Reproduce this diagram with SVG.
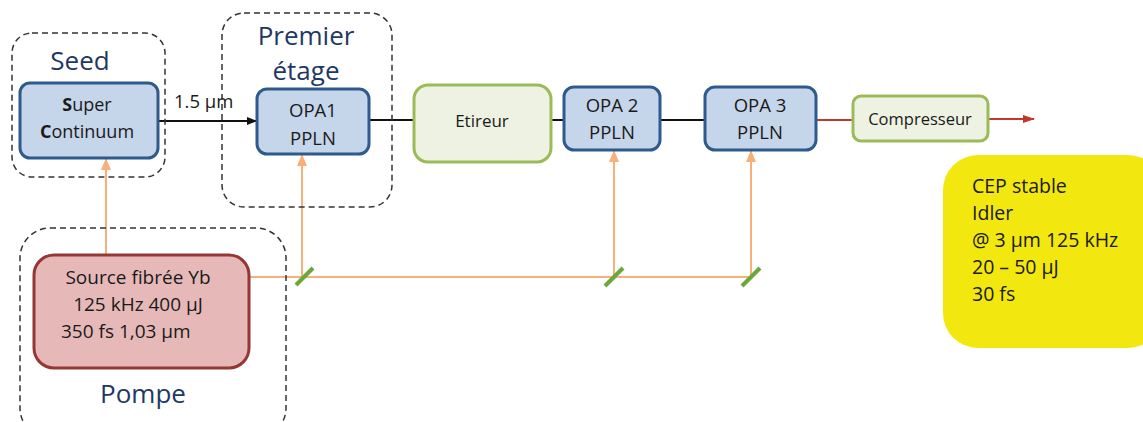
<svg xmlns="http://www.w3.org/2000/svg" width="1143" height="422" viewBox="0 0 1143 422">
<defs>
<style>
.dash{fill:none;stroke:#333;stroke-width:1.5;stroke-dasharray:6,4}
.blue{fill:#c5d5ea;stroke:#2e5a8e;stroke-width:3}
.green{fill:#eef2e2;stroke:#9bbb59;stroke-width:3}
.t{font-family:"Open Sans","Liberation Sans",sans-serif;fill:#1a1a1a}
.big{font-family:"Open Sans","Liberation Sans",sans-serif;fill:#1f3864;font-size:26px;text-anchor:middle}
.c{text-anchor:middle}
.blk{stroke:#111;stroke-width:2;fill:none}
.org{stroke:#f8b07a;stroke-width:2;fill:none}
.mir{stroke:#6aa83a;stroke-width:4;fill:none}
</style>
<marker id="ab" markerWidth="10" markerHeight="10" refX="9" refY="5" orient="auto" markerUnits="userSpaceOnUse"><path d="M0,1 L10,5 L0,9 Z" fill="#111"/></marker>
<marker id="ao" markerWidth="12" markerHeight="12" refX="11" refY="6" orient="auto" markerUnits="userSpaceOnUse"><path d="M0,1 L12,6 L0,11 Z" fill="#f8b07a"/></marker>
<marker id="ar" markerWidth="12" markerHeight="10" refX="11" refY="5" orient="auto" markerUnits="userSpaceOnUse"><path d="M0,1 L12,5 L0,9 Z" fill="#c0392b"/></marker>
</defs>

<g id="connectors">
<line class="blk" x1="158" y1="121" x2="256" y2="121" marker-end="url(#ab)"/>
<line class="blk" x1="369" y1="120" x2="414" y2="120"/>
<line class="blk" x1="551" y1="120" x2="564" y2="120"/>
<line class="blk" x1="660" y1="120" x2="705" y2="120"/>
<line x1="816" y1="120" x2="852" y2="120" stroke="#c0392b" stroke-width="2"/>
<line x1="988" y1="119" x2="1034" y2="119" stroke="#c0392b" stroke-width="2" marker-end="url(#ar)"/>
<line class="org" x1="106" y1="255" x2="106" y2="159" marker-end="url(#ao)"/>
<line class="org" x1="249" y1="277" x2="751" y2="277"/>
<line class="org" x1="302" y1="277" x2="302" y2="155" marker-end="url(#ao)"/>
<line class="org" x1="614" y1="277" x2="614" y2="151" marker-end="url(#ao)"/>
<line class="org" x1="751" y1="277" x2="751" y2="151" marker-end="url(#ao)"/>
<line class="mir" x1="296" y1="285" x2="313" y2="268"/>
<line class="mir" x1="605" y1="286" x2="623" y2="268"/>
<line class="mir" x1="742" y1="286" x2="760" y2="268"/>
<text class="t" x="174" y="108" font-size="18.5">1.5 µm</text>
</g>

<g id="seed-group">
<rect class="dash" x="12" y="33" width="153" height="144" rx="20"/>
<text class="big" x="80" y="70">Seed</text>
</g>
<g id="premier-group">
<rect class="dash" x="222" y="13" width="170" height="194" rx="22"/>
<text class="big" x="306" y="45">Premier</text>
<text class="big" x="306" y="80">étage</text>
</g>
<g id="pompe-group">
<rect class="dash" x="20" y="228" width="266" height="210" rx="30"/>
<text class="big" x="143" y="403" font-size="28">Pompe</text>
</g>

<g id="supercontinuum">
<rect class="blue" x="20" y="83" width="138" height="75" rx="10"/>
<text class="t c" x="87" y="111" font-size="18"><tspan font-weight="bold">S</tspan>uper</text>
<text class="t c" x="87" y="138" font-size="18"><tspan font-weight="bold">C</tspan>ontinuum</text>
</g>
<g id="opa1">
<rect class="blue" x="257" y="89" width="112" height="65" rx="10"/>
<text class="t c" x="313" y="117" font-size="18.5">OPA1</text>
<text class="t c" x="313" y="145" font-size="18.5">PPLN</text>
</g>
<g id="etireur">
<rect class="green" x="414" y="85" width="137" height="77" rx="14"/>
<text class="t c" x="482" y="127" font-size="17">Etireur</text>
</g>
<g id="opa2">
<rect class="blue" x="564" y="87" width="96" height="63" rx="10"/>
<text class="t c" x="612" y="112" font-size="18.5">OPA 2</text>
<text class="t c" x="612" y="139" font-size="18.5">PPLN</text>
</g>
<g id="opa3">
<rect class="blue" x="705" y="87" width="111" height="63" rx="10"/>
<text class="t c" x="760" y="112" font-size="18.5">OPA 3</text>
<text class="t c" x="760" y="139" font-size="18.5">PPLN</text>
</g>
<g id="compresseur">
<rect class="green" x="853" y="96" width="135" height="45" rx="8"/>
<text class="t c" x="920" y="125" font-size="16.5">Compresseur</text>
</g>
<g id="source">
<rect x="34" y="255" width="215" height="113" rx="20" fill="#e6b9b8" stroke="#953735" stroke-width="3"/>
<text class="t c" x="138" y="284" font-size="19">Source fibrée Yb</text>
<text class="t c" x="138" y="311" font-size="19">125 kHz 400 µJ</text>
<text class="t" x="61" y="338" font-size="19">350 fs 1,03 µm</text>
</g>
<g id="output">
<rect x="943" y="155" width="220" height="193" rx="35" fill="#f2e80f"/>
<text class="t" x="972" y="193" font-size="19.5">CEP stable</text>
<text class="t" x="972" y="220" font-size="19.5">Idler</text>
<text class="t" x="972" y="247" font-size="19.5">@ 3 µm 125 kHz</text>
<text class="t" x="972" y="274" font-size="19.5">20 – 50 µJ</text>
<text class="t" x="972" y="301" font-size="19.5">30 fs</text>
</g>
</svg>
